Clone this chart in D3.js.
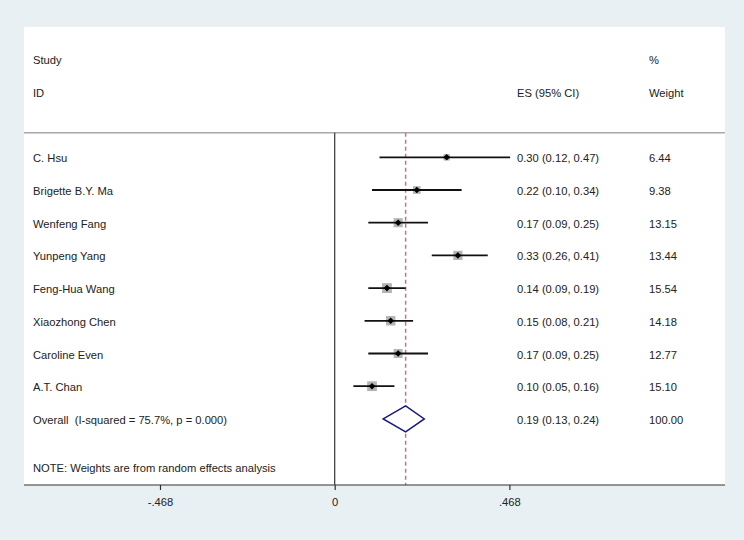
<!DOCTYPE html>
<html>
<head>
<meta charset="utf-8">
<script src="https://cdn.jsdelivr.net/npm/d3@7"></script>
<style>
  html, body { margin: 0; padding: 0; background: #e8f0f3; }
  svg { display: block; }
  text { font-family: "Liberation Sans", Arial, sans-serif; font-size: 11.2px; fill: #222; white-space: pre; }
</style>
</head>
<body>
<svg id="chart" width="744" height="540"></svg>
<script>
// ---- data ----
const studies = ["C. Hsu", "Brigette B.Y. Ma", "Wenfeng Fang", "Yunpeng Yang", "Feng-Hua Wang", "Xiaozhong Chen", "Caroline Even", "A.T. Chan"];
const es      = [0.30, 0.22, 0.17, 0.33, 0.14, 0.15, 0.17, 0.10];
const lower   = [0.12, 0.10, 0.09, 0.26, 0.09, 0.08, 0.09, 0.05];
const upper   = [0.47, 0.34, 0.25, 0.41, 0.19, 0.21, 0.25, 0.16];
const weights = [6.44, 9.38, 13.15, 13.44, 15.54, 14.18, 12.77, 15.10];
const overallLabel = "Overall  (I-squared = 75.7%, p = 0.000)";
const overall = { es: 0.19, lower: 0.13, upper: 0.24, weight: 100.00 };
const tickValues = [-0.468, 0, 0.468];
const tickLabels = ["-.468", "0", ".468"];
const noteText = "NOTE: Weights are from random effects analysis";

// ---- layout ----
const svg = d3.select("#chart");
const panel = { left: 24, top: 27, right: 725, bottom: 485 };
const x = d3.scaleLinear().domain([-0.468, 0.468]).range([160, 509.4]);
// row index scale: -3 = "Study", -2 = "ID", 0..7 studies, 8 overall
const y = d3.scaleLinear().domain([0, 1]).range([157.3, 190.0]);
const sepY = 132.7;
const textX = 33, esX = 517, wX = 649;
const tdy = 5;
const fmt2 = d3.format(".2f");

// white plot region
svg.append("rect")
  .attr("x", panel.left).attr("y", panel.top)
  .attr("width", panel.right - panel.left).attr("height", panel.bottom - panel.top)
  .attr("fill", "#ffffff");

// headers
svg.append("text").attr("x", textX).attr("y", y(-3) + tdy).text("Study");
svg.append("text").attr("x", textX).attr("y", y(-2) + tdy).text("ID");
svg.append("text").attr("x", wX).attr("y", y(-3) + tdy).text("%");
svg.append("text").attr("x", wX).attr("y", y(-2) + tdy).text("Weight");
svg.append("text").attr("x", esX).attr("y", y(-2) + tdy).text("ES (95% CI)");

// separator line
svg.append("line")
  .attr("x1", panel.left).attr("x2", panel.right)
  .attr("y1", sepY).attr("y2", sepY)
  .attr("stroke", "#a8a8a8").attr("stroke-width", 1.5);

// zero line
svg.append("line")
  .attr("x1", x(0)).attr("x2", x(0))
  .attr("y1", sepY).attr("y2", panel.bottom)
  .attr("stroke", "#333").attr("stroke-width", 1.2);

// overall dashed line
svg.append("line")
  .attr("x1", x(overall.es)).attr("x2", x(overall.es))
  .attr("y1", sepY).attr("y2", panel.bottom)
  .attr("stroke", "#c0787f").attr("stroke-width", 1.5)
  .attr("stroke-dasharray", "4,3");

const data = studies.map((s, i) => ({ s, i, es: es[i], lo: lower[i], hi: upper[i], w: weights[i] }));

const rows = svg.append("g").selectAll("g").data(data).join("g");

// weight boxes
rows.append("rect")
  .attr("x", d => x(d.es) - 2.5 * Math.sqrt(d.w) / 2)
  .attr("y", d => y(d.i) - 2.5 * Math.sqrt(d.w) / 2)
  .attr("width", d => 2.5 * Math.sqrt(d.w))
  .attr("height", d => 2.5 * Math.sqrt(d.w))
  .attr("fill", "#b4b4b4");

// CI lines
rows.append("line")
  .attr("x1", d => x(d.lo)).attr("x2", d => x(d.hi))
  .attr("y1", d => y(d.i)).attr("y2", d => y(d.i))
  .attr("stroke", "#111").attr("stroke-width", 1.8);

// point markers (small diamonds)
rows.append("path")
  .attr("d", d => {
    const cx = x(d.es), cy = y(d.i), r = 3.3;
    return `M${cx - r},${cy}L${cx},${cy - r}L${cx + r},${cy}L${cx},${cy + r}Z`;
  })
  .attr("fill", "#000");

// labels
rows.append("text").attr("x", textX).attr("y", d => y(d.i) + tdy).text(d => d.s);
rows.append("text").attr("x", esX).attr("y", d => y(d.i) + tdy)
  .text(d => `${fmt2(d.es)} (${fmt2(d.lo)}, ${fmt2(d.hi)})`);
rows.append("text").attr("x", wX).attr("y", d => y(d.i) + tdy).text(d => fmt2(d.w));

// overall
const oi = studies.length;
const oy = y(oi);
svg.append("path")
  .attr("d", `M${x(overall.lower)},${oy}L${x(overall.es)},${oy - 13}L${x(overall.upper)},${oy}L${x(overall.es)},${oy + 13}Z`)
  .attr("fill", "#fff").attr("stroke", "#1a1a7a").attr("stroke-width", 1.5);
svg.append("text").attr("x", textX).attr("y", oy + tdy).text(overallLabel);
svg.append("text").attr("x", esX).attr("y", oy + tdy)
  .text(`${fmt2(overall.es)} (${fmt2(overall.lower)}, ${fmt2(overall.upper)})`);
svg.append("text").attr("x", wX).attr("y", oy + tdy).text(fmt2(overall.weight));

// note
svg.append("text").attr("x", textX).attr("y", y(9.47) + tdy).text(noteText);

// x axis
const axis = d3.axisBottom(x).tickValues(tickValues)
  .tickFormat((d, i) => tickLabels[i]).tickSize(5).tickPadding(8);
const ag = svg.append("g").attr("transform", `translate(0,${panel.bottom})`).call(axis);
ag.select(".domain").remove();
ag.selectAll(".tick line").attr("stroke", "#333").attr("stroke-width", 1.2);
ag.selectAll(".tick text").style("font-family", '"Liberation Sans", Arial, sans-serif')
  .style("font-size", "11.2px").attr("fill", "#222");
svg.append("line")
  .attr("x1", panel.left).attr("x2", panel.right)
  .attr("y1", panel.bottom).attr("y2", panel.bottom)
  .attr("stroke", "#333").attr("stroke-width", 1.2);
</script>
</body>
</html>
